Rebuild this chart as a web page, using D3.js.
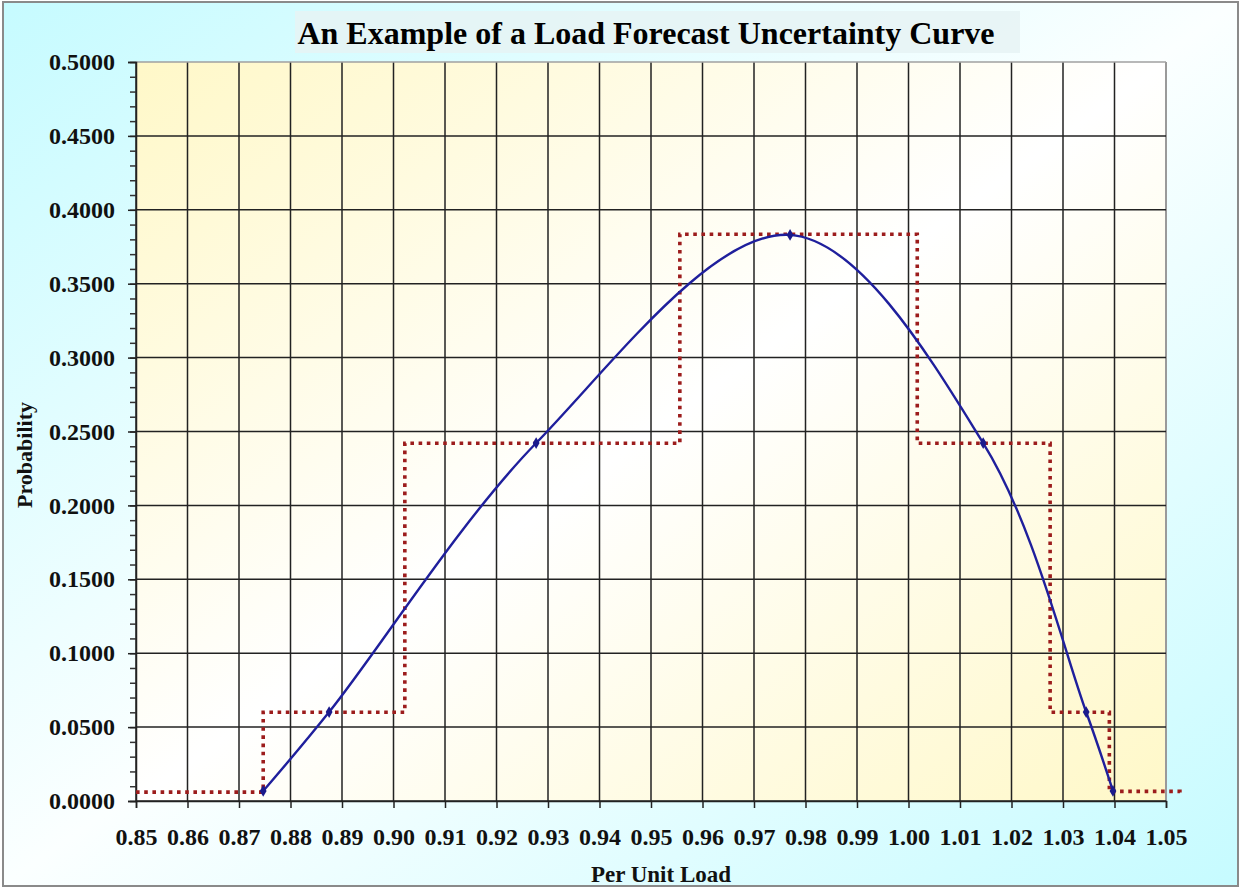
<!DOCTYPE html>
<meta charset="utf-8">
<style>
  body { margin: 0; background: #fff; }
  svg text { font-family: "Liberation Serif", "Times New Roman", serif; font-weight: bold; }
</style>
<script src="https://d3js.org/d3.v7.min.js"></script>
<div id="chart"></div>
<script>
// blue curve points (per unit load, probability)
var curveX = [0.8747, 0.8875, 0.9277, 0.9770, 1.0145, 1.0345, 1.0397];
var curveY = [0.0068, 0.0602, 0.2422, 0.3830, 0.2422, 0.0602, 0.0068];

// red dotted step line: each level starts at stepX[i]
var stepX = [0.8500, 0.8747, 0.9022, 0.9556, 1.0017, 1.0275, 1.0390, 1.0527];
var stepY = [0.0060, 0.0600, 0.2420, 0.3835, 0.2420, 0.0600, 0.0065, 0.0050];

var xTicks = d3.range(0, 21).map(i => 0.85 + i * 0.01);
var yTicks = d3.range(0, 11).map(i => i * 0.05);
var yMinor = d3.range(0, 51).map(i => i * 0.01);

var W = 1240, H = 888;
var margin = {top: 62, right: 74, bottom: 87, left: 136};

var svg = d3.select("#chart").append("svg")
    .attr("width", W)
    .attr("height", H);

var defs = svg.append("defs");
var outerGrad = defs.append("linearGradient").attr("id", "outerGrad")
    .attr("x1", "0%").attr("y1", "0%").attr("x2", "100%").attr("y2", "100%");
outerGrad.append("stop").attr("offset", "0%").attr("stop-color", "#c6fbff");
outerGrad.append("stop").attr("offset", "50%").attr("stop-color", "#fbffff");
outerGrad.append("stop").attr("offset", "100%").attr("stop-color", "#c6fbff");

var plotGrad = defs.append("linearGradient").attr("id", "plotGrad")
    .attr("x1", "0%").attr("y1", "0%").attr("x2", "100%").attr("y2", "100%");
plotGrad.append("stop").attr("offset", "0%").attr("stop-color", "#fff8c8");
plotGrad.append("stop").attr("offset", "50%").attr("stop-color", "#ffffff");
plotGrad.append("stop").attr("offset", "100%").attr("stop-color", "#fff8c8");

// outer frame
svg.append("rect")
    .attr("x", 3).attr("y", 2)
    .attr("width", W - 5).attr("height", H - 4)
    .attr("fill", "url(#outerGrad)")
    .attr("stroke", "#8a8a8a")
    .attr("stroke-width", 2);

var x = d3.scaleLinear().domain([0.85, 1.05]).range([margin.left, W - margin.right]);
var y = d3.scaleLinear().domain([0, 0.5]).range([H - margin.bottom, margin.top]);

// plot background
svg.append("rect")
    .attr("x", x(0.85)).attr("y", y(0.5))
    .attr("width", x(1.05) - x(0.85)).attr("height", y(0) - y(0.5))
    .attr("fill", "url(#plotGrad)");

// grid
svg.append("g")
  .selectAll("line")
  .data(xTicks)
  .enter()
  .append("line")
    .attr("x1", d => x(d)).attr("x2", d => x(d))
    .attr("y1", y(0.5)).attr("y2", y(0))
    .attr("stroke", d => Math.abs(d - 1.05) < 1e-9 ? "#9a9a9a" : "#222")
    .attr("stroke-width", d => Math.abs(d - 1.05) < 1e-9 ? 2 : 1.5);

svg.append("g")
  .selectAll("line")
  .data(yTicks)
  .enter()
  .append("line")
    .attr("x1", x(0.85)).attr("x2", x(1.05))
    .attr("y1", d => y(d)).attr("y2", d => y(d))
    .attr("stroke", d => d > 0.49 ? "#a0a0a0" : "#222")
    .attr("stroke-width", 1.5);

// x axis
svg.append("g")
    .attr("transform", "translate(0," + y(0) + ")")
    .call(d3.axisBottom(x).tickValues(xTicks).tickFormat(d3.format(".2f")).tickSize(7).tickPadding(20))
    .call(g => g.select(".domain").attr("stroke", "#222").attr("stroke-width", 1.5))
    .call(g => g.selectAll(".tick line").attr("stroke", "#222").attr("stroke-width", 1.5))
    .selectAll("text")
      .attr("font-size", 24)
      .attr("font-family", "Liberation Serif, serif")
      .attr("font-weight", "bold")
      .attr("fill", "#111");

// y axis minor ticks
svg.append("g")
    .attr("transform", "translate(" + x(0.85) + ",0)")
    .call(d3.axisLeft(y).tickValues(yMinor).tickFormat("").tickSize(6))
    .call(g => g.select(".domain").remove())
    .call(g => g.selectAll(".tick line").attr("stroke", "#333").attr("stroke-width", 1.5));

// y axis major
svg.append("g")
    .attr("transform", "translate(" + x(0.85) + ",0)")
    .call(d3.axisLeft(y).tickValues(yTicks).tickFormat(d3.format(".4f")).tickSize(8).tickPadding(13))
    .call(g => g.select(".domain").attr("stroke", "#222").attr("stroke-width", 1.5))
    .call(g => g.selectAll(".tick line").attr("stroke", "#222").attr("stroke-width", 1.5))
    .selectAll("text")
      .attr("font-size", 24)
      .attr("font-family", "Liberation Serif, serif")
      .attr("font-weight", "bold")
      .attr("fill", "#111");

// step line
var stepData = stepX.map((d, i) => [d, stepY[i]]);
svg.append("path")
    .datum(stepData)
    .attr("fill", "none")
    .attr("stroke", "#9c1c1c")
    .attr("stroke-width", 3.6)
    .attr("stroke-dasharray", "3.6 4.6")
    .attr("d", d3.line().x(d => x(d[0])).y(d => y(d[1])).curve(d3.curveStepAfter));

// blue curve
var curveData = curveX.map((d, i) => [d, curveY[i]]);
svg.append("path")
    .datum(curveData)
    .attr("fill", "none")
    .attr("stroke", "#1f1f9c")
    .attr("stroke-width", 2.4)
    .attr("d", d3.line().x(d => x(d[0])).y(d => y(d[1])).curve(d3.curveCatmullRom.alpha(0.5)));

svg.append("g")
  .selectAll("path")
  .data(curveData)
  .enter()
  .append("path")
    .attr("transform", d => "translate(" + x(d[0]) + "," + y(d[1]) + ")")
    .attr("d", d3.symbol().type(d3.symbolDiamond).size(40))
    .attr("fill", "#1a1a8c");

// title
svg.append("rect")
    .attr("x", 295).attr("y", 11)
    .attr("width", 725).attr("height", 42)
    .attr("fill", "#e6f3f5")
    .attr("opacity", 0.85);

svg.append("text")
    .attr("x", 646).attr("y", 44)
    .attr("text-anchor", "middle")
    .attr("font-size", 32)
    .attr("fill", "#000")
    .text("An Example of a Load Forecast Uncertainty Curve");

// axis titles
svg.append("text")
    .attr("x", (x(0.85) + x(1.05)) / 2 + 10).attr("y", 882)
    .attr("text-anchor", "middle")
    .attr("font-size", 23)
    .attr("fill", "#111")
    .text("Per Unit Load");

svg.append("text")
    .attr("transform", "translate(32,455)rotate(-90)")
    .attr("text-anchor", "middle")
    .attr("font-size", 22)
    .attr("fill", "#111")
    .text("Probability");
</script>
